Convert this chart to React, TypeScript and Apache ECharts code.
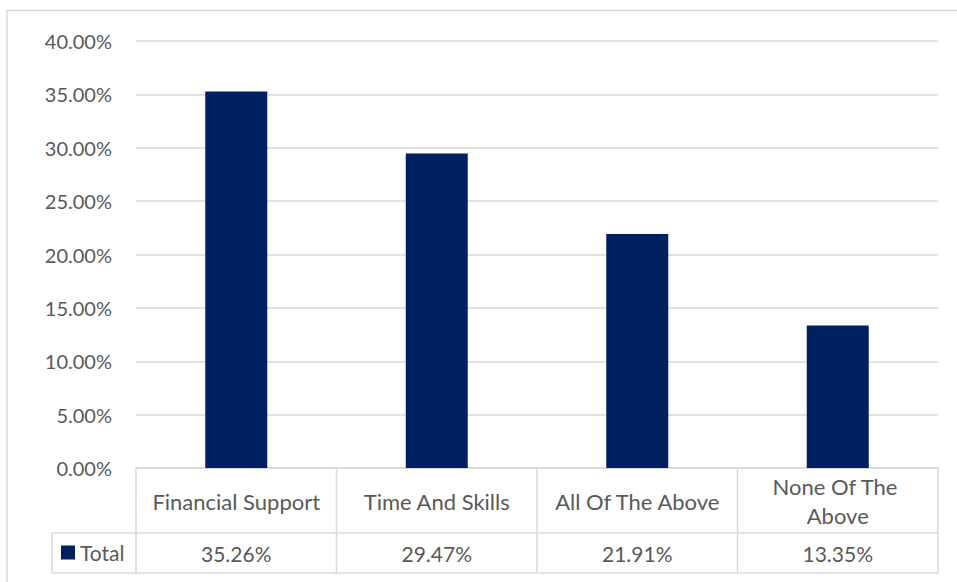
import React, { useEffect, useRef } from "react";
import * as echarts from "echarts";

const categories = ["Financial Support", "Time And Skills", "All Of The Above", "None Of The Above"];
const totals = [35.26, 29.47, 21.91, 13.35];
const seriesName = "Total";
const yTicks = { min: 0, max: 40, interval: 5 };

const FONT = "Lato";
const TXT = "#595959";
const LINE = "#d9d9d9";
const BAR = "#002060";

export default function App() {
  const ref = useRef<HTMLDivElement>(null);
  useEffect(() => {
    if (!ref.current) return;
    const chart = echarts.init(ref.current, null, { renderer: "svg" });
    const L = 136, R = 938, T = 41, B = 468, ROW1 = 533, ROW2 = 573, LEG = 52;
    const colW = (R - L) / categories.length;
    const lines: any[] = [];
    const hl = (x1: number, x2: number, y: number) =>
      lines.push({ type: "line", shape: { x1, y1: y, x2, y2: y }, style: { stroke: LINE, lineWidth: 1.5 }, silent: true });
    const vl = (x: number, y1: number, y2: number) =>
      lines.push({ type: "line", shape: { x1: x, y1, x2: x, y2 }, style: { stroke: LINE, lineWidth: 1.5 }, silent: true });
    hl(LEG, R, ROW1);
    hl(LEG, R, ROW2);
    for (let i = 0; i <= categories.length; i++) vl(L + i * colW, B, ROW2);
    vl(LEG, ROW1, ROW2);
    // outer chart border
    lines.push({ type: "rect", shape: { x: 7, y: 10.5, width: 970, height: 600 }, style: { fill: "none", stroke: LINE, lineWidth: 1.5 }, silent: true, z: -1 });

    chart.setOption({
      animation: false,
      backgroundColor: "#fff",
      grid: { left: L, right: 957 - R, top: T, bottom: 582 - B, containLabel: false },
      legend: {
        data: [seriesName],
        left: 61,
        top: 542,
        padding: 0,
        icon: "rect",
        itemWidth: 14,
        itemHeight: 14,
        textStyle: { color: TXT, fontFamily: FONT, fontSize: 21 },
      },
      xAxis: [
        {
          type: "category",
          data: categories,
          position: "bottom",
          axisLine: { show: true, lineStyle: { color: LINE, width: 1.5 } },
          axisTick: { show: false },
          axisLabel: {
            interval: 0,
            color: TXT,
            fontFamily: FONT,
            fontSize: 22,
            margin: 33,
            verticalAlign: "middle",
            lineHeight: 29,
            width: 185,
            overflow: "break",
          },
        },
        {
          type: "category",
          data: categories,
          position: "bottom",
          offset: ROW1 - B,
          axisLine: { show: false },
          axisTick: { show: false },
          axisLabel: {
            interval: 0,
            color: TXT,
            fontFamily: FONT,
            fontSize: 21,
            margin: 20,
            verticalAlign: "middle",
            formatter: (_v: string, i: number) => totals[i].toFixed(2) + "%",
          },
        },
      ],
      yAxis: {
        type: "value",
        min: yTicks.min,
        max: yTicks.max,
        interval: yTicks.interval,
        axisLine: { show: false },
        axisTick: { show: false },
        splitLine: { lineStyle: { color: LINE, width: 1.5 } },
        axisLabel: {
          color: TXT,
          fontFamily: FONT,
          fontSize: 20,
          margin: 24,
          formatter: (v: number) => v.toFixed(2) + "%",
        },
      },
      series: [
        {
          name: seriesName,
          type: "bar",
          data: totals,
          barWidth: 62,
          itemStyle: { color: BAR },
          xAxisIndex: 0,
        },
      ],
      graphic: lines,
    });
    return () => chart.dispose();
  }, []);
  return (
    <div
      ref={ref}
      style={{ position: "fixed", left: 0, top: 0, width: 957, height: 582, background: "#fff" }}
    />
  );
}
